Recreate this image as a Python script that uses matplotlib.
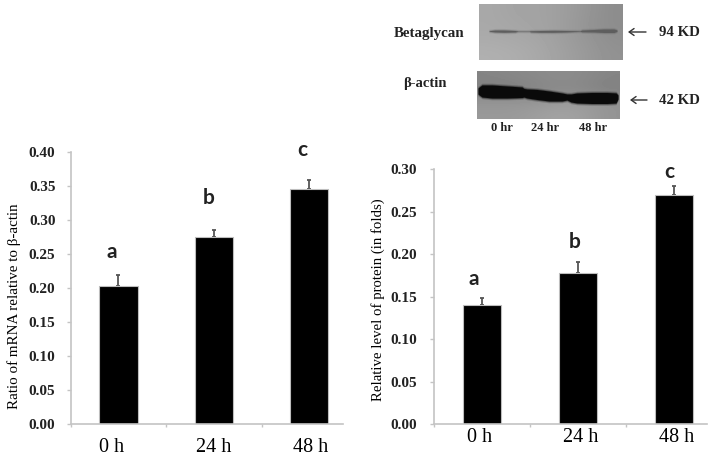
#!/usr/bin/env python3

import matplotlib
matplotlib.use('Agg')
import matplotlib.pyplot as plt

W, H = 712, 458

categories = ['0 h', '24 h', '48 h']
letters = ['a', 'b', 'c']

mrna_values = [0.203, 0.274, 0.345]
mrna_errors = [0.016, 0.011, 0.013]
mrna_letter_x = [-0.07, -0.05, -0.07]
mrna_letter_y = [0.253, 0.332, 0.4025]
mrna_label_x = [-0.07, 0.0, 0.01]
mrna_ticks = [0.00, 0.05, 0.10, 0.15, 0.20, 0.25, 0.30, 0.35, 0.40]

protein_values = [0.140, 0.178, 0.270]
protein_errors = [0.009, 0.013, 0.010]
protein_letter_x = [-0.09, -0.04, -0.05]
protein_letter_y = [0.1707, 0.2137, 0.2965]
protein_label_x = [-0.03, 0.03, 0.03]
protein_ticks = [0.00, 0.05, 0.10, 0.15, 0.20, 0.25, 0.30]

# blot background greys
betaglycan_grey = [[0.66, 0.64, 0.64, 0.62, 0.59, 0.55],
                   [0.66, 0.65, 0.64, 0.62, 0.58, 0.55],
                   [0.67, 0.66, 0.65, 0.62, 0.59, 0.56],
                   [0.69, 0.68, 0.66, 0.63, 0.60, 0.57]]
actin_grey = [[0.52, 0.53, 0.54, 0.55, 0.54, 0.52],
              [0.50, 0.50, 0.52, 0.54, 0.53, 0.50],
              [0.58, 0.58, 0.58, 0.60, 0.60, 0.58],
              [0.60, 0.60, 0.62, 0.64, 0.62, 0.58]]

# band outlines in blot pixels (x, then top and bottom edge)
betaglycan_x = [10, 16, 25, 36, 39, 50, 52, 62, 75, 86, 101, 103, 115, 125, 135, 138]
betaglycan_top = [26.7, 26, 26, 26.5, 27, 27, 26.7, 26.5, 26.3, 26.5, 26.8, 26, 25.5, 25, 25, 26]
betaglycan_bot = [27.3, 28, 28.3, 28, 27.3, 27.3, 28, 28.3, 28.3, 28, 27.3, 27.8, 28, 28.5, 28.5, 27.3]

actin_x = [1, 5, 15, 30, 45, 47, 50, 60, 72, 85, 90, 94, 100, 115, 130, 139, 141]
actin_top = [17, 14, 14, 15, 16, 17.5, 18, 18.5, 20, 22, 23, 23, 22, 21.5, 21.5, 22, 24]
actin_bot = [23, 26, 27, 27, 26.5, 26, 27, 28.5, 30, 30, 29, 31, 32, 32.5, 32.5, 32, 28]

lane_labels = ['0 hr', '24 hr', '48 hr']
lane_label_x = [502, 545, 593]


def ax_from_px(left, right, top, bottom):
    return plt.gcf().add_axes([left / W, 1 - bottom / H, (right - left) / W, (bottom - top) / H])


def px_text(x, y, s, **kw):
    plt.gcf().text(x / W, 1 - y / H, s, **kw)


def bar_panel(box, xlim, values, errors, letter_x, letter_y, label_x, label_y, ticks, ymax,
              ylabel, ylabel_xy, ylabel_size, pad):
    ax = ax_from_px(*box)
    xs = range(len(values))
    ax.bar(xs, values, width=0.4, color='black', edgecolor='#bdbdbd', linewidth=0.8, zorder=2)
    ax.errorbar(xs, values, yerr=[[0] * len(errors), errors], fmt='none', ecolor='#555555',
                elinewidth=1.3, capsize=1.5, capthick=1.3, zorder=1)
    ax.set_xlim(*xlim)
    ax.set_ylim(0, ymax)
    ax.set_yticks(ticks)
    ax.set_yticklabels(['%.2f' % t for t in ticks], fontsize=11, fontweight='bold',
                       family='Liberation Serif', color='#222222')
    ax.set_xticks([-0.5, 0.5, 1.5])
    ax.set_xticklabels([])
    ax.tick_params(axis='both', color='#c4c4c4', length=3, width=1, pad=pad)
    ax.tick_params(axis='x', direction='out', length=2)
    for side in ['top', 'right']:
        ax.spines[side].set_visible(False)
    for side in ['left', 'bottom']:
        ax.spines[side].set_color('#c4c4c4')
        ax.spines[side].set_linewidth(1.2)
    for x, dx, lab, y in zip(xs, letter_x, letters, letter_y):
        ax.text(x + dx, y, lab, ha='center', va='center', fontsize=15, family='Lato',
                fontweight='bold', color='#222222', clip_on=False)
    for x, dx, lab in zip(xs, label_x, categories):
        px = ax.transData.transform((x + dx, 0))[0]
        px_text(px, label_y, lab, ha='center', va='center', fontsize=14.5,
                family='Liberation Serif')
    px_text(ylabel_xy[0], ylabel_xy[1], ylabel, rotation=90, ha='center', va='center',
            fontsize=ylabel_size, family='Liberation Serif')
    return ax


def blot(box, grey, band_x, band_top, band_bot, band_colour, halo):
    ax = ax_from_px(*box)
    w, h = box[1] - box[0], box[3] - box[2]
    ax.imshow(grey, cmap='gray', vmin=0, vmax=1, extent=[0, w, h, 0], aspect='auto',
              interpolation='bicubic')
    for grow, alpha in halo:
        ax.fill_between(band_x, [t - grow for t in band_top], [b + grow for b in band_bot],
                        color=band_colour, alpha=alpha, linewidth=0)
    ax.fill_between(band_x, band_top, band_bot, color=band_colour, linewidth=0)
    ax.set_xlim(0, w)
    ax.set_ylim(h, 0)
    ax.axis('off')


def arrow(x0, x1, y):
    plt.gcf().add_artist(matplotlib.patches.FancyArrowPatch(
        (x0 / W, 1 - y / H), (x1 / W, 1 - y / H), transform=plt.gcf().transFigure,
        arrowstyle='->,head_length=3.5,head_width=2.5', color='#333333', lw=1, shrinkA=0, shrinkB=0))


plt.figure(figsize=(W / 100, H / 100), dpi=100)

bar_panel((70.7, 342.7, 151.7, 424), (-0.49, 2.35), mrna_values, mrna_errors, mrna_letter_x,
          mrna_letter_y, mrna_label_x, 447, mrna_ticks, 0.40,
          'Ratio of mRNA relative to β-actin', (14, 306), 10.8, 8)
bar_panel((434, 706.7, 169, 424.3), (-0.5, 2.34), protein_values, protein_errors, protein_letter_x,
          protein_letter_y, protein_label_x, 438, protein_ticks, 0.30,
          'Relative level of protein (in folds)', (378, 300), 10.6, 9)

blot((479, 622, 4, 60), betaglycan_grey, betaglycan_x, betaglycan_top, betaglycan_bot, '#5e5e5e',
     [(0.8, 0.3), (1.6, 0.12)])
blot((477, 620, 71, 119), actin_grey, actin_x, actin_top, actin_bot, '#0a0a0a',
     [(0.8, 0.4), (1.8, 0.2)])

serif_bold = dict(family='Liberation Serif', fontweight='bold', color='#222222', va='center')
px_text(394, 33, 'Betaglycan', ha='left', fontsize=10.8, **serif_bold)
px_text(403, 83, 'β-actin', ha='left', fontsize=10.5, **serif_bold)
px_text(659, 33, '94 KD', ha='left', fontsize=10.7, **serif_bold)
px_text(659, 100, '42 KD', ha='left', fontsize=10.7, **serif_bold)
for x, lab in zip(lane_label_x, lane_labels):
    px_text(x, 128, lab, ha='center', fontsize=9, **serif_bold)
arrow(646, 628, 32)
arrow(647, 630, 100)

plt.savefig('out.png', dpi=100)
